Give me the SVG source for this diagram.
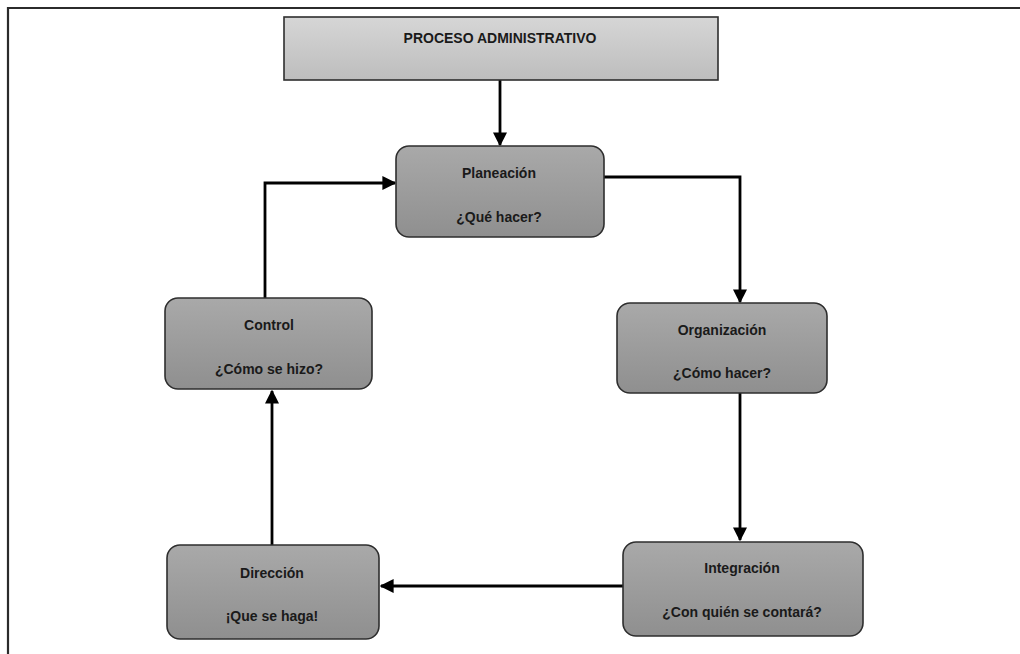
<svg xmlns="http://www.w3.org/2000/svg" width="1020" height="654" viewBox="0 0 1020 654">
  <style>
    .frame { stroke: #2b2b2b; stroke-width: 2.2; fill: none; }
    .node { fill: url(#nodeFill); stroke: #2e2e2e; stroke-width: 1.6; }
    .title { fill: url(#titleFill); stroke: #2e2e2e; stroke-width: 1.6; }
    .lbl { font-family: "Liberation Sans", Arial, sans-serif; font-weight: bold; font-size: 14px; fill: #1a1a1a; text-anchor: middle; }
    .edge { stroke: #000; stroke-width: 2.8; fill: none; marker-end: url(#arrow); }
  </style>
  <defs>
    <linearGradient id="nodeFill" x1="0" y1="0" x2="0" y2="1">
      <stop offset="0" stop-color="#a9a9a9"/>
      <stop offset="1" stop-color="#8f8f8f"/>
    </linearGradient>
    <linearGradient id="titleFill" x1="0" y1="0" x2="0" y2="1">
      <stop offset="0" stop-color="#d6d6d6"/>
      <stop offset="1" stop-color="#bdbdbd"/>
    </linearGradient>
    <marker id="arrow" viewBox="0 0 10 10" refX="9" refY="5" markerWidth="5" markerHeight="5" orient="auto" markerUnits="strokeWidth">
      <path d="M0,0 L10,5 L0,10 Z" fill="#000"/>
    </marker>
  </defs>

  <rect width="1020" height="654" fill="#fff"/>

  <!-- outer frame: top and left edges -->
  <path class="frame" d="M8,654 V8 H1020"/>

  <!-- connectors -->
  <g id="connectors">
    <path class="edge" d="M500,80 V145"/>
    <path class="edge" d="M604,177 H740 V302"/>
    <path class="edge" d="M740,393 V540"/>
    <path class="edge" d="M623,586 H381"/>
    <path class="edge" d="M272,545 V391"/>
    <path class="edge" d="M265,298 V183 H395"/>
  </g>

  <g id="proceso">
    <rect class="title" x="284" y="17" width="434" height="63"/>
    <text class="lbl" x="500" y="43">PROCESO ADMINISTRATIVO</text>
  </g>

  <g id="planeacion">
    <rect class="node" x="396" y="146" width="208" height="91" rx="13"/>
    <text class="lbl" x="499" y="178">Planeación</text>
    <text class="lbl" x="499" y="222">¿Qué hacer?</text>
  </g>

  <g id="organizacion">
    <rect class="node" x="617" y="303" width="210" height="90" rx="13"/>
    <text class="lbl" x="722" y="335">Organización</text>
    <text class="lbl" x="722" y="378">¿Cómo hacer?</text>
  </g>

  <g id="integracion">
    <rect class="node" x="623" y="542" width="240" height="94" rx="13"/>
    <text class="lbl" x="742" y="573">Integración</text>
    <text class="lbl" x="742" y="617">¿Con quién se contará?</text>
  </g>

  <g id="direccion">
    <rect class="node" x="167" y="545" width="212" height="94" rx="13"/>
    <text class="lbl" x="272" y="578">Dirección</text>
    <text class="lbl" x="272" y="621">¡Que se haga!</text>
  </g>

  <g id="control">
    <rect class="node" x="165" y="298" width="207" height="91" rx="13"/>
    <text class="lbl" x="269" y="330">Control</text>
    <text class="lbl" x="269" y="374">¿Cómo se hizo?</text>
  </g>
</svg>
